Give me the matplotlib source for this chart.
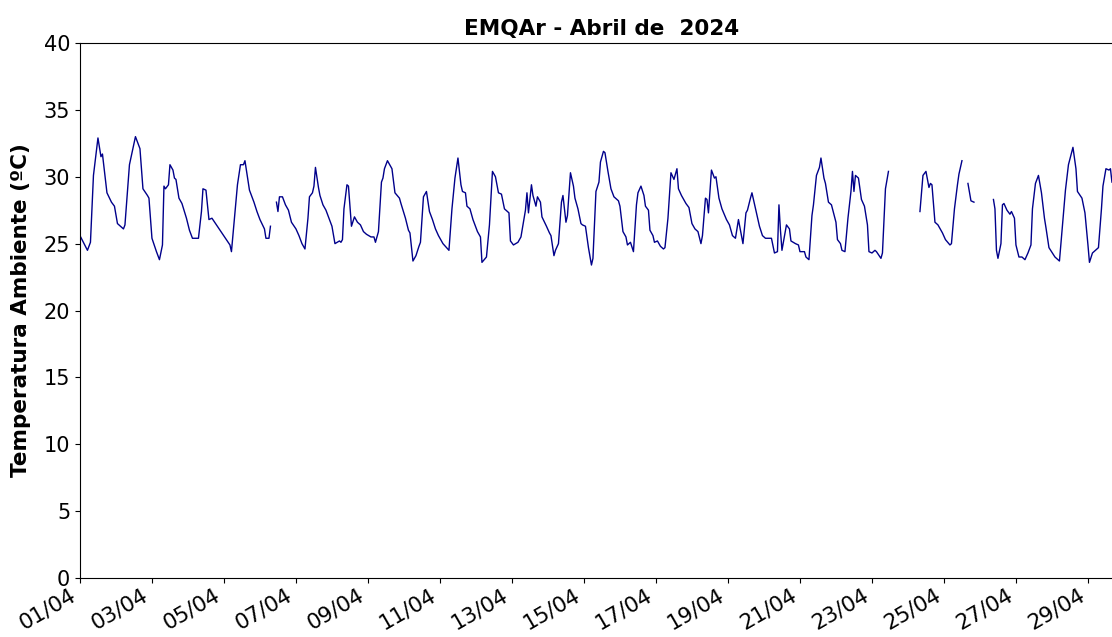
import numpy as np
import pandas as pd
import matplotlib
matplotlib.use('Agg')
import matplotlib.pyplot as plt
import matplotlib.dates as mdates

# horas desde 01/04/2024 00:00 e temperatura lida (nan = falha de dados)
hours = [0, 5, 7, 9, 12, 14, 15, 18, 21, 23, 25, 29, 30, 33, 37, 40, 42, 45, 46, 48,
         51, 53, 55, 56, 57, 59, 60, 62, 63, 64, 66, 68, 71, 73, 75, 79, 81, 82, 84, 86,
         88, 91, 94, 97, 100, 101, 103, 105, 107, 109, 110, 113, 115, 116, 118, 120, 123, 124, 126, 127,
         128, 131, 132, 133, 135, 137, 139, 141, 144, 146, 148, 150, 152, 153, 155, 156, 157, 159, 160, 162,
         164, 166, 168, 170, 173, 174, 175, 176, 178, 179, 181, 183, 185, 187, 189, 191, 194, 196, 197, 199,
         201, 202, 203, 205, 208, 210, 213, 214, 217, 219, 220, 222, 224, 226, 227, 229, 231, 233, 235, 237,
         239, 242, 246, 248, 250, 252, 254, 255, 257, 258, 260, 262, 265, 267, 268, 271, 273, 275, 277, 279,
         281, 283, 286, 287, 289, 292, 294, 297, 298, 299, 301, 302, 304, 305, 307, 308, 311, 313, 314, 316,
         317, 319, 321, 322, 324, 325, 327, 329, 330, 332, 334, 335, 337, 339, 341, 342, 344, 346, 347, 349,
         350, 352, 354, 356, 359, 360, 362, 364, 365, 367, 369, 371, 372, 374, 376, 377, 379, 380, 382, 383,
         385, 387, 389, 390, 392, 394, 396, 398, 399, 401, 404, 406, 408, 410, 412, 414, 415, 417, 418, 419,
         421, 423, 424, 426, 428, 431, 433, 435, 437, 439, 442, 444, 445, 447, 448, 451, 453, 455, 457, 461,
         463, 465, 466, 467, 468, 471, 473, 474, 477, 479, 480, 483, 484, 486, 488, 489, 491, 493, 494, 496,
         497, 499, 501, 504, 505, 507, 508, 510, 512, 514, 515, 516, 517, 519, 521, 523, 525, 526, 528, 530,
         531, 534, 535, 537, 539, 550, 560, 562, 564, 566, 567, 568, 570, 572, 575, 577, 580, 581, 583, 585,
         586, 588, 590, 592, 594, 596, 602, 609, 610, 611, 612, 614, 615, 616, 618, 620, 621, 623, 624, 626,
         628, 630, 632, 634, 635, 637, 639, 641, 643, 644, 646, 650, 653, 655, 657, 659, 662, 664, 665, 668,
         670, 672, 673, 675, 677, 679, 681, 682, 684, 686, 687, 688]

nan = np.nan
temps = [25.6, 24.5, 25.1, 30.1, 32.9, 31.5, 31.7, 28.8, 28.1, 27.8, 26.5, 26.1, 26.4, 30.9, 33.0, 32.1, 29.1, 28.6, 28.4, 25.4,
         24.4, 23.8, 24.9, 29.3, 29.1, 29.4, 30.9, 30.5, 29.9, 29.8, 28.4, 28.0, 26.9, 26.0, 25.4, 25.4, 27.4, 29.1, 29.0, 26.8,
         26.9, 26.4, 25.9, 25.4, 24.9, 24.4, 26.9, 29.4, 30.9, 30.9, 31.2, 29.0, 28.4, 28.1, 27.4, 26.8, 26.1, 25.4, 25.4, 26.3,
         nan, 28.1, 27.4, 28.5, 28.5, 27.9, 27.5, 26.6, 26.1, 25.6, 25.0, 24.6, 26.9, 28.5, 28.8, 29.3, 30.7, 29.2, 28.6, 27.9,
         27.5, 26.9, 26.3, 25.0, 25.2, 25.1, 25.3, 27.6, 29.4, 29.3, 26.3, 27.0, 26.6, 26.4, 25.9, 25.7, 25.5, 25.5, 25.1, 25.9,
         29.6, 29.9, 30.6, 31.2, 30.6, 28.8, 28.4, 28.0, 26.9, 26.0, 25.8, 23.7, 24.1, 24.8, 25.1, 28.5, 28.9, 27.4, 26.8, 26.1,
         25.6, 25.0, 24.5, 27.6, 29.9, 31.4, 29.4, 28.9, 28.8, 27.8, 27.6, 26.8, 25.9, 25.5, 23.6, 24.0, 26.4, 30.4, 30.0, 28.8,
         28.7, 27.6, 27.3, 25.2, 24.9, 25.1, 25.5, 27.5, 28.8, 27.3, 29.4, 28.6, 27.8, 28.5, 28.1, 27.0, 26.3, 25.8, 25.6, 24.1,
         24.5, 25.0, 28.1, 28.6, 26.6, 27.1, 30.3, 29.3, 28.4, 27.6, 26.5, 26.4, 26.3, 24.7, 23.4, 23.9, 28.9, 29.6, 31.1, 31.9,
         31.8, 30.4, 29.1, 28.5, 28.2, 27.8, 25.9, 25.5, 24.9, 25.1, 24.4, 27.9, 28.8, 29.3, 28.6, 27.8, 27.5, 26.0, 25.6, 25.1,
         25.2, 24.8, 24.6, 24.7, 26.9, 30.3, 29.8, 30.6, 29.1, 28.6, 28.0, 27.7, 26.5, 26.1, 25.9, 25.0, 25.6, 28.4, 28.3, 27.3,
         30.5, 29.9, 30.0, 28.4, 27.6, 26.8, 26.4, 25.6, 25.4, 26.8, 25.0, 27.3, 27.5, 28.4, 28.8, 27.3, 26.3, 25.6, 25.4, 25.4,
         24.3, 24.4, 27.9, 26.0, 24.5, 26.4, 26.1, 25.2, 25.0, 24.9, 24.4, 24.4, 24.0, 23.8, 27.1, 27.9, 30.1, 30.7, 31.4, 29.9,
         29.5, 28.1, 27.9, 26.6, 25.3, 25.0, 24.5, 24.4, 26.9, 28.9, 30.4, 28.9, 30.1, 29.9, 28.3, 27.8, 26.4, 24.4, 24.3, 24.5,
         24.4, 23.9, 24.3, 29.1, 30.4, nan, 27.4, 30.1, 30.4, 29.2, 29.5, 29.4, 26.6, 26.4, 25.8, 25.3, 24.9, 25.0, 27.6, 29.4,
         30.2, 31.2, nan, 29.5, 28.2, 28.1, nan, 28.3, 27.6, 24.5, 23.9, 25.0, 27.9, 28.0, 27.5, 27.2, 27.4, 26.9, 24.9, 24.0,
         24.0, 23.8, 24.3, 24.9, 27.6, 29.5, 30.1, 28.8, 26.9, 26.2, 24.7, 24.0, 23.7, 26.4, 29.0, 30.9, 32.2, 30.6, 28.9, 28.4,
         27.3, 24.9, 23.6, 24.3, 24.5, 24.7, 27.6, 29.3, 30.6, 30.5, 30.6, 29.6]

start = pd.Timestamp('2024-04-01 00:00')
times = start + pd.to_timedelta(hours, unit='h')
t_end = start + pd.Timedelta(hours=695)

fig = plt.figure(figsize=(11.12, 6.37), dpi=100)
ax = fig.add_axes([0.0719, 0.0926, 0.9375, 0.8399])

ax.plot(times, temps, color='#00008b', linewidth=1.0)

ax.set_xlim(start, t_end)
ax.set_ylim(0, 40)
ax.set_yticks(np.arange(0, 41, 5))
ax.xaxis.set_major_locator(mdates.DayLocator(bymonthday=range(1, 32, 2)))
ax.xaxis.set_major_formatter(mdates.DateFormatter('%d/%m'))
ax.tick_params(axis='y', labelsize=15)
ax.tick_params(axis='x', labelsize=15.5, pad=1.5)
plt.setp(ax.get_xticklabels(), rotation=30, ha='right')

ax.set_ylabel('Temperatura Ambiente (ºC)', fontsize=15.5, fontweight='bold', labelpad=9)
ax.set_title('EMQAr - Abril de  2024', fontsize=15.5, fontweight='bold')

fig.savefig('out.png', dpi=100)
